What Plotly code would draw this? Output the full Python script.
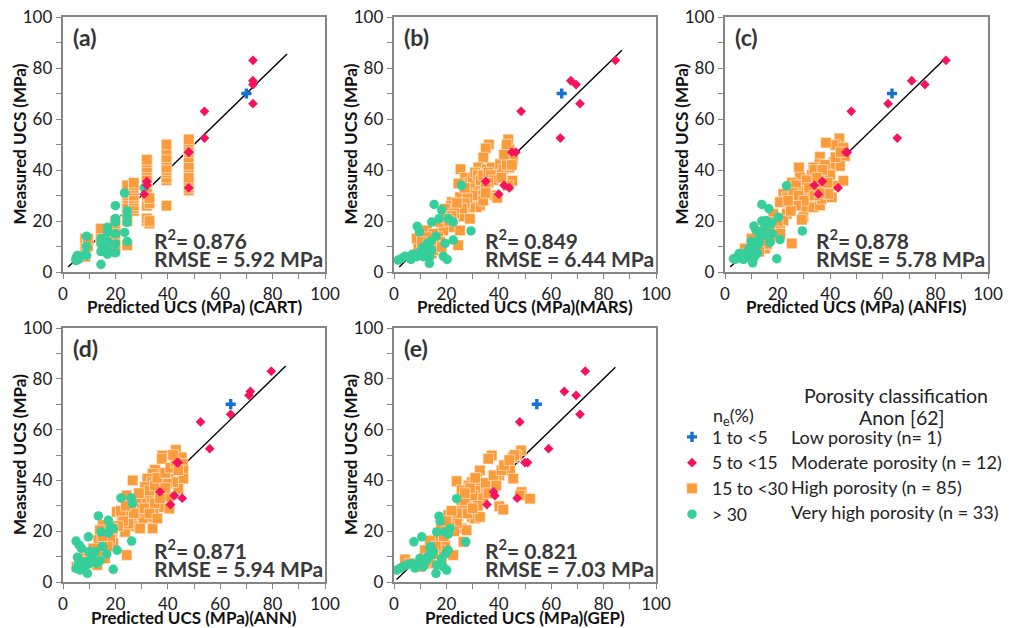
import plotly.graph_objects as go

# ---------------- data ----------------
models = ["CART", "MARS", "ANFIS", "ANN", "GEP"]
panel_tags = ["(a)", "(b)", "(c)", "(d)", "(e)"]
x_titles = ["Predicted UCS (MPa) (CART)", "Predicted UCS (MPa)(MARS)",
            "Predicted UCS (MPa) (ANFIS)", "Predicted UCS (MPa)(ANN)",
            "Predicted UCS (MPa)(GEP)"]
r2_values = ["0.876", "0.849", "0.878", "0.871", "0.821"]
rmse_values = ["5.92", "6.44", "5.78", "5.94", "7.03"]
fit_start = [2, 2, 2, 5, 1]
fit_end = [85.5, 87, 84, 85, 84.5]

legend_names = ["1 to <5", "5 to <15", "15 to <30", "> 30"]
class_labels = ["Low porosity (n= 1)", "Moderate porosity (n = 12)",
                "High porosity (n = 85)", "Very high porosity (n = 33)"]

# low porosity (blue cross): measured value and predictions per model
low_measured = [70]
low_pred = {"CART": [70], "MARS": [64], "ANFIS": [63.5], "ANN": [64], "GEP": [54.5]}

# moderate porosity (magenta diamonds)
moderate_measured = [83, 75, 73.5, 66, 63, 52.5, 47, 47, 35.5, 34, 30.5, 33]
cart_moderate_pred = [72.5, 72.5, 72.5, 72.5, 54, 54, 48, 48, 32, 32, 31, 48]
mars_moderate_pred = [84.5, 67.5, 69.5, 71, 48.5, 63.5, 45, 46.5, 35, 42, 40, 44]
anfis_moderate_pred = [84, 71, 76, 62, 48, 65.5, 46.5, 46, 37, 34, 35.5, 43]
ann_moderate_pred = [79.5, 71.5, 71, 64, 52.5, 56, 43.5, 44, 37, 42.5, 41, 45.5]
gep_moderate_pred = [73, 65, 69.5, 71, 48, 59, 50, 51, 38, 38.5, 35.5, 47]

# high porosity (orange squares): (predicted, measured)
cart_high = [(8.5, 6), (8.5, 7), (8.5, 8), (8.5, 9), (8.5, 10), (8.5, 11), (8.5, 12), (8.5, 13),
             (9.5, 10), (9.5, 13),
             (14.5, 13), (14.5, 14), (14.5, 15), (14.5, 16), (14.5, 17),
             (20, 9), (20, 10), (20, 12), (20, 15), (20, 17), (20, 19), (20, 20),
             (24.5, 10.5), (24.5, 20), (24.5, 21), (24.5, 24), (24.5, 25), (24.5, 26), (24.5, 27),
             (24.5, 29), (24.5, 30), (24.5, 31), (24.5, 33), (24.5, 34),
             (27, 24), (27, 25), (27, 26), (27, 28), (27, 29), (27, 30), (27, 32), (27, 33), (27, 34), (27, 35),
             (32, 20), (32, 21), (32, 26), (32, 30), (32, 32), (32, 33), (32, 35), (32, 36), (32, 37),
             (32, 40), (32, 41), (32, 43), (32, 44),
             (33, 19), (33, 20), (33, 27), (33, 29),
             (39.5, 26), (39.5, 36), (39.5, 37), (39.5, 39), (39.5, 40), (39.5, 41), (39.5, 44),
             (39.5, 45), (39.5, 48), (39.5, 50),
             (48, 32), (48, 33), (48, 34), (48, 35), (48, 36), (48, 37), (48, 41), (48, 42),
             (48, 45), (48, 47), (48, 48), (48, 50), (48, 51), (48, 52)]
mars_high = [(43.6, 52), (42.8, 48.2), (44, 45.6), (45.4, 44.3), (36.2, 50), (35, 48.5), (34.1, 44.9),
             (32.2, 41), (25.4, 40.3), (27.1, 37), (24.6, 34.7), (35.4, 40.3), (37.3, 41), (40.5, 42.3),
             (41.7, 40.3), (44, 41), (45.2, 35.8), (43.6, 33.9), (38.5, 30), (39.4, 29.1), (34.1, 35.8),
             (32.8, 33.2), (30.3, 31.9), (30.9, 27.4), (32.8, 26.1), (31.6, 25.4), (29, 25.4), (27.1, 26.1),
             (25.2, 29.3), (22, 27.4), (21.8, 26.1), (23.3, 24.1), (26.5, 21.8), (29, 20.9), (21.4, 17.6),
             (18.8, 16.3), (16.9, 13.7), (17.6, 11.8), (15.6, 10.5), (12.5, 16.3), (8.7, 13.1), (9.3, 9.2),
             (10.6, 7.3), (14.4, 7.3), (15, 8.6), (24.5, 10.5), (25.2, 16.3), (19.5, 24.8), (17.6, 19.6),
             (15, 15), (12.5, 13.7), (10.6, 11.8), (18.2, 9.8), (13.1, 10.5),
             (28, 33), (29, 35), (30, 37), (31, 39), (32, 38), (33, 36), (34, 38), (36, 39), (37, 38),
             (38, 36), (36, 35), (35, 33), (33, 30), (34, 28), (30, 30), (28, 29), (27, 27), (26, 25),
             (24, 27), (23, 23), (22, 22), (20, 21), (21, 20), (27, 33), (35, 31), (41, 37), (43, 42),
             (44, 48), (43, 50), (42, 46), (45, 42)]
anfis_high = [(43.5, 52.4), (41.9, 49.8), (38.4, 50.7), (45, 48.8), (45.6, 45.5), (36.1, 45.1), (35.9, 42.3),
              (41.2, 42.9), (43.7, 41.6), (39.9, 41), (33.6, 41), (36.8, 39.7), (38.7, 38.4), (28.1, 41),
              (28.5, 37.1), (25.4, 35.1), (29.2, 33.9), (33, 37.7), (34.9, 35.8), (37.4, 34.5), (41.2, 33.9),
              (45, 35.8), (31.1, 31.9), (29.2, 31.2), (22.2, 30.6), (23.5, 29.3), (26, 28), (20.9, 27.4),
              (24.7, 26.1), (31.1, 27.4), (30.8, 25.4), (33.6, 25.4), (36.1, 26.1), (36.8, 28.7), (40.6, 29.3),
              (39.3, 30.6), (23.5, 22.8), (22.2, 20.2), (29.8, 21.5), (29.2, 20.5), (20.9, 16.3), (18.4, 22.8),
              (16.8, 19.6), (15.2, 17), (18.4, 15), (17.1, 13.1), (13.3, 15), (12.7, 13.1), (10.1, 13.1),
              (15.2, 9.2), (10.8, 9.2), (7.6, 9.2), (8.9, 7.3), (25.4, 11.2), (14.8, 10.9),
              (33, 38), (31, 36), (34, 40), (38, 42), (40, 38), (42, 45), (44, 47), (37, 40), (35, 37),
              (27, 34), (26, 31), (28, 30), (30, 28), (27, 26), (25, 24), (24, 28), (32, 33), (34, 30),
              (20, 19), (19, 16), (17, 17), (21, 15), (14, 12), (16, 11), (12, 10), (11, 8), (9, 6), (13, 8),
              (36, 31), (39, 35)]
ann_high = [(43.1, 52), (37.9, 49.8), (37.7, 48.5), (45.3, 49.1), (45.7, 46.5), (45.9, 43.9), (35.1, 44.2),
            (34.2, 42.6), (40.8, 40.7), (45.9, 40.7), (44, 36.7), (42.1, 39.3), (39.6, 38.7), (32.2, 40.7),
            (33.9, 39.3), (31.3, 37.4), (26.6, 40), (24.3, 34.1), (30.7, 33.5), (32.6, 32.2), (37, 35.4),
            (38.3, 34.1), (40.2, 33.5), (37, 29.5), (40.6, 28.9), (34.5, 27.6), (32.6, 25.6), (30.4, 25),
            (28.1, 27.6), (26.8, 29.5), (26.2, 25), (20.5, 27.6), (22.4, 25.6), (24.3, 26.3), (26.8, 22),
            (29.4, 21.1), (34.2, 21.1), (23.7, 19.7), (24.3, 10.6), (18.6, 19.1), (15.2, 22.4), (14.1, 20.4),
            (13.5, 16.5), (16.7, 15.8), (19.2, 15.2), (15.4, 12.5), (11.6, 13.2), (16, 9.3), (12.9, 9.3),
            (7.1, 9.3), (9.7, 7.3), (13.1, 6.7), (5.2, 6),
            (33, 36), (35, 38), (36, 41), (39, 43), (41, 45), (43, 47), (42, 50), (30, 31), (28, 33),
            (29, 35), (31, 29), (27, 27), (25, 23), (23, 24), (21, 22), (22, 28), (35, 31), (37, 33),
            (44, 44), (18, 17), (17, 14), (15, 18), (13, 11), (11, 8), (10, 10), (39, 37), (33, 27),
            (36, 25), (24, 30), (19, 21), (8, 8), (6, 6)]
gep_high = [(48.5, 51.8), (46.8, 49.8), (45.3, 49.1), (37.3, 49.8), (36, 48.5), (43.6, 45.9), (44.3, 43.9),
            (32.8, 43.9), (40.2, 42), (39.2, 40.7), (23.9, 39.7), (31.6, 40.7), (29.7, 39.3), (28.4, 38),
            (25.8, 36.1), (33.5, 36.7), (37.9, 40), (37.3, 34.8), (45.5, 40.7), (48.7, 35.4), (48.1, 34.1),
            (51.9, 32.8), (40.2, 29.8), (41.7, 28.5), (30.9, 30.9), (29.7, 33.5), (27.7, 32.2), (25.8, 29.5),
            (29.7, 25.6), (30.9, 25), (32.8, 25.6), (22.6, 26.7), (20.7, 26.3), (22.4, 25), (24.5, 25.9),
            (23.9, 21.7), (25.8, 21.1), (27.7, 20.4), (20.1, 23), (26.5, 15.8), (22.6, 10.6), (16.9, 19.3),
            (17.6, 16.5), (15, 16.5), (13.7, 16.2), (11.8, 12.5), (19.5, 14.5), (13.1, 9.3), (17.6, 12.5),
            (4.2, 8.9), (6.1, 7.3), (13.7, 7.3), (18.2, 8.6),
            (33, 38), (31, 36), (30, 34), (27, 31), (26, 28), (28, 27), (24, 27), (29, 37), (35, 39),
            (38, 42), (41, 44), (42, 46), (46, 50), (34, 33), (36, 35), (32, 30), (30, 29), (24, 23),
            (23, 20), (21, 22), (19, 18), (16, 14), (15, 11), (12, 8), (10, 6), (18, 21), (39, 38),
            (44, 48), (31, 41), (27, 35), (22, 28), (20, 24)]

# very high porosity (green circles): (predicted, measured)
cart_very_high = [(5, 4.5), (5, 5.5), (5.5, 6.5), (6, 5), (5, 5), (9, 14), (9, 6.5), (8.5, 7), (9, 10),
                  (14.5, 11), (14.5, 3), (14.5, 13), (14.5, 8), (17, 17.5), (17, 15.5), (17, 9), (17, 7),
                  (17, 8), (17, 12), (20, 26), (20, 21), (20, 20), (20, 19.5), (20, 11), (20, 7.5), (20, 15),
                  (23.5, 31), (23.5, 15.5), (24.5, 24), (24.5, 19.5), (24.5, 12), (24.5, 22), (31, 33)]
mars_very_high = [(25.8, 33.9), (15.3, 26.5), (18.2, 24.4), (17.2, 20.9), (14.4, 19.6), (20.7, 20.9),
                  (22.6, 19.6), (8.9, 17.9), (9.7, 15.7), (19.5, 11.2), (22.6, 12.5), (29.4, 16.1),
                  (12.7, 11.2), (11.2, 8.6), (12.5, 7.3), (13.7, 6), (11.2, 6), (18.8, 6.2), (20.3, 4.9),
                  (13.5, 3.4), (6.5, 4.9), (7.1, 7), (2.9, 5.3), (4.2, 6.2), (1.6, 4.7), (9.9, 7.9),
                  (12.7, 9.2), (14.4, 8.6), (8.7, 6), (11.8, 9.8), (14, 12), (16, 14), (11, 9.5)]
anfis_very_high = [(23.4, 33.8), (14, 26.5), (16.7, 24.8), (20.3, 21.5), (15.6, 20.2), (14, 20), (17.7, 19.2),
                   (11, 18), (11.8, 16.3), (20.9, 12.7), (13, 11.4), (17.1, 11.6), (29.4, 16.1), (10.8, 8.8),
                   (12.3, 7.3), (19.7, 5.2), (10.5, 3.6), (5.4, 7.3), (3.2, 5.2), (7, 4.9), (8.9, 6.5),
                   (9, 9), (13, 13), (15, 14.5), (8, 7.5), (6, 5.5), (12, 10), (14, 16), (18, 15), (10, 12),
                   (4, 5), (11, 5.5), (16, 18)]
ann_very_high = [(26, 33.1), (22.1, 33.1), (26.5, 30.9), (13.5, 26), (17.3, 24.3), (14.5, 19.7), (19.2, 21.1),
                 (17.3, 19.3), (9.7, 17.8), (26.2, 16.1), (5, 16.1), (6.2, 14.5), (7.1, 13.2), (20.7, 12.5),
                 (12.2, 11.9), (16.7, 11), (5.5, 9.7), (9.7, 7.1), (11.6, 8), (7.7, 6), (5, 5.4), (6.5, 4.7),
                 (9.3, 3.4), (19.2, 5), (14.1, 8.4), (12.9, 7.3), (8.4, 8), (11, 10), (15, 14), (8, 7),
                 (6, 7.5), (10, 12), (18, 22)]
gep_very_high = [(23.9, 32.8), (17.2, 25.9), (17.6, 24), (16.3, 19.7), (19.5, 19.7), (21.4, 21.1), (20.7, 18.8),
                 (10.6, 17.8), (7.6, 15.8), (27.4, 15.8), (13.7, 13.2), (20.7, 12.5), (19.8, 11.2), (14.4, 10.6),
                 (9.9, 9.3), (9.9, 6.7), (16.3, 6.7), (18.8, 6), (20.1, 4.7), (16, 3.4), (4.8, 6.7), (2.3, 5.4),
                 (1, 4.7), (3.5, 6), (12.5, 8.6), (6.8, 7.3), (11.2, 6), (18.2, 9.3), (15, 12), (13, 10),
                 (11, 7.5), (8, 5.5), (14, 14)]

moderate_pred = [cart_moderate_pred, mars_moderate_pred, anfis_moderate_pred, ann_moderate_pred, gep_moderate_pred]
high_pairs = [cart_high, mars_high, anfis_high, ann_high, gep_high]
very_high_pairs = [cart_very_high, mars_very_high, anfis_very_high, ann_very_high, gep_very_high]

# ---------------- style ----------------
FONT = "Lato"
OFF = 8                       # page body margin of the html page
W, H = 1011 - OFF, 628 - OFF  # figure size so that it fills the window
C_BLUE = "#1572D0"
C_MAG = "#F7125F"
C_ORANGE = "#FA9B3C"
C_GREEN = "#36CE9B"
AX_COLOR = "#858585"
TXT = "#3A3A3A"


def px_x(p):
    return (p - OFF) / W


def px_y(p):
    return 1 - (p - OFF) / H


# plot-area pixel boxes in the window (left, right, top, bottom)
boxes = [(63, 325, 17, 272), (394, 656, 17, 272), (725, 988, 17, 272),
         (63, 325, 328, 582), (394, 656, 328, 582)]

fig = go.Figure()
layout = dict(width=W, height=H, margin=dict(l=0, r=0, t=0, b=0, autoexpand=False),
              paper_bgcolor="white", plot_bgcolor="white",
              font=dict(family=FONT, size=16, color="#222222"))
annotations = []

for i, m in enumerate(models):
    n = "" if i == 0 else str(i + 1)
    xa, ya = "x" + n, "y" + n
    l, r, t, b = boxes[i]
    common = dict(range=[0, 100], showgrid=False, zeroline=False, automargin=False,
                  showline=True, linecolor=AX_COLOR, linewidth=1.6, mirror=True,
                  ticks="outside", ticklen=5.5, tickwidth=1.3, tickcolor=AX_COLOR,
                  dtick=20, tick0=0, ticklabeloverflow="allow",
                  minor=dict(ticks="outside", dtick=10, ticklen=5.5, tickwidth=1.3, tickcolor=AX_COLOR),
                  tickfont=dict(family=FONT, size=17, color="#1A1A1A"), fixedrange=True)
    layout["xaxis" + n] = dict(common, domain=[px_x(l), px_x(r)], anchor=ya)
    layout["yaxis" + n] = dict(common, domain=[px_y(b), px_y(t)], anchor=xa)

    # 1:1 line
    fig.add_trace(go.Scatter(x=[fit_start[i], fit_end[i]], y=[fit_start[i], fit_end[i]],
                             mode="lines", line=dict(color="black", width=1.4),
                             xaxis=xa, yaxis=ya, showlegend=False, hoverinfo="skip"))
    hp = high_pairs[i]
    fig.add_trace(go.Scatter(x=[p[0] for p in hp], y=[p[1] for p in hp], mode="markers",
                             marker=dict(symbol="square", size=10.5, color=C_ORANGE,
                                         line=dict(width=0.7, color="rgba(255,240,225,0.9)")),
                             name=legend_names[2], legendrank=3, showlegend=(i == 0),
                             xaxis=xa, yaxis=ya))
    vh = very_high_pairs[i]
    fig.add_trace(go.Scatter(x=[p[0] for p in vh], y=[p[1] for p in vh], mode="markers",
                             marker=dict(symbol="circle", size=9.5, color=C_GREEN),
                             name=legend_names[3], legendrank=4, showlegend=(i == 0),
                             xaxis=xa, yaxis=ya))
    fig.add_trace(go.Scatter(x=moderate_pred[i], y=moderate_measured, mode="markers",
                             marker=dict(symbol="diamond", size=7.5, color=C_MAG),
                             name=legend_names[1], legendrank=2, showlegend=(i == 0),
                             xaxis=xa, yaxis=ya))
    fig.add_trace(go.Scatter(x=low_pred[m], y=low_measured, mode="markers",
                             marker=dict(symbol="cross", size=8.5, color=C_BLUE),
                             name=legend_names[0], legendrank=1, showlegend=(i == 0),
                             xaxis=xa, yaxis=ya))

    # panel tag
    annotations.append(dict(x=3.2, y=92, xref=xa, yref=ya, text="<b>" + panel_tags[i] + "</b>",
                            showarrow=False, xanchor="left", yanchor="middle",
                            font=dict(family=FONT, size=23, color="#333333")))
    # stats
    annotations.append(dict(x=34, y=12.8, xref=xa, yref=ya,
                            text="<b>R<sup>2</sup>= " + r2_values[i] + "</b>",
                            showarrow=False, xanchor="left", yanchor="middle",
                            font=dict(family=FONT, size=21, color=TXT)))
    annotations.append(dict(x=34, y=5.2, xref=xa, yref=ya,
                            text="<b>RMSE = " + rmse_values[i] + " MPa</b>",
                            showarrow=False, xanchor="left", yanchor="middle",
                            font=dict(family=FONT, size=21, color=TXT)))
    # axis titles
    annotations.append(dict(x=px_x((l + r) / 2), y=px_y(b + 35),
                            xref="paper", yref="paper", text="<b>" + x_titles[i] + "</b>",
                            showarrow=False, xanchor="center", yanchor="middle",
                            font=dict(family=FONT, size=17, color="#111111")))
    annotations.append(dict(x=px_x(l - 44), y=px_y((t + b) / 2), xref="paper", yref="paper",
                            text="<b>Measured UCS (MPa)</b>", textangle=-90,
                            showarrow=False, xanchor="center", yanchor="middle",
                            font=dict(family=FONT, size=17, color="#111111")))

# legend headers and class descriptions
annotations.append(dict(x=px_x(733), y=px_y(416), xref="paper", yref="paper",
                        text="n<sub>e</sub>(%)", showarrow=False, xanchor="center", yanchor="middle",
                        font=dict(family=FONT, size=18, color="#222222")))
annotations.append(dict(x=px_x(896), y=px_y(395), xref="paper", yref="paper",
                        text="Porosity classification", showarrow=False,
                        xanchor="center", yanchor="middle",
                        font=dict(family=FONT, size=19.5, color="#222222")))
annotations.append(dict(x=px_x(902), y=px_y(417), xref="paper", yref="paper",
                        text="Anon [62]", showarrow=False,
                        xanchor="center", yanchor="middle",
                        font=dict(family=FONT, size=19.5, color="#222222")))
row_y = [437, 462, 487, 512]
for lab, yy in zip(class_labels, row_y):
    annotations.append(dict(x=px_x(789), y=px_y(yy), xref="paper", yref="paper", text=lab,
                            showarrow=False, xanchor="left", yanchor="middle",
                            font=dict(family=FONT, size=18, color="#222222")))

layout["annotations"] = annotations
layout["legend"] = dict(x=px_x(672), y=px_y(419), xanchor="left", yanchor="top",
                        bgcolor="rgba(0,0,0,0)", font=dict(family=FONT, size=17.5, color="#222222"),
                        itemwidth=30, tracegroupgap=0)
layout["showlegend"] = True
fig.update_layout(**layout)
fig.write_html("out.html")
